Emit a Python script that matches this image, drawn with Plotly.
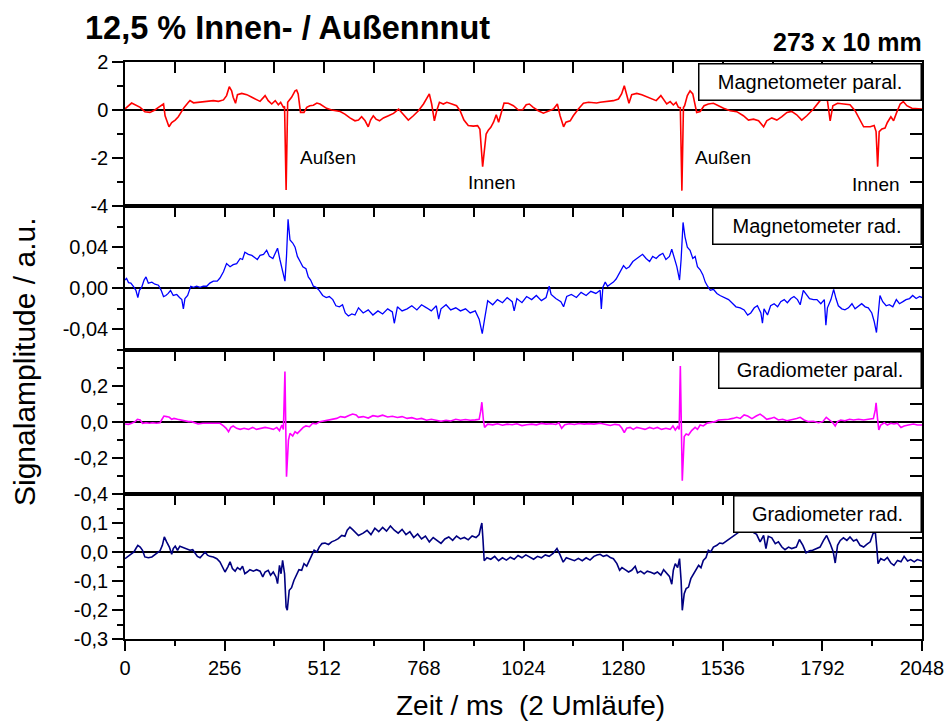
import plotly.graph_objects as go

# ---------------- data ----------------
t_mag_par = [0, 17, 39, 51, 64, 77, 86, 94, 99, 103, 109, 113, 120, 129, 137, 143, 152, 163, 167, 176,
             193, 210, 227, 240, 253, 261, 268, 274, 278, 284, 289, 300, 313, 326, 338, 347, 360, 368, 377, 386,
             394, 400, 407, 410, 414, 418, 428, 437, 441, 445, 451, 460, 467, 475, 484, 493, 501, 510, 518, 531,
             553, 565, 578, 591, 600, 608, 617, 625, 631, 638, 645, 654, 664, 677, 690, 703, 715, 728, 741, 754,
             767, 777, 782, 788, 795, 801, 808, 818, 827, 840, 852, 861, 871, 882, 895, 906, 912, 919, 928, 934,
             940, 947, 954, 960, 968, 974, 985, 998, 1011, 1022, 1031, 1039, 1049, 1062, 1075, 1088, 1101, 1111, 1118, 1127,
             1133, 1144, 1152, 1165, 1178, 1191, 1212,
             1221, 1238, 1255, 1268, 1276, 1283, 1289, 1295, 1302, 1315, 1328, 1341, 1354, 1365, 1377, 1385, 1392, 1401, 1409, 1416,
             1422, 1427, 1431, 1435, 1438, 1445, 1452, 1459, 1465, 1469, 1478, 1488, 1499, 1512, 1525, 1538, 1555, 1572, 1589, 1602,
             1615, 1628, 1641, 1649, 1662, 1675, 1688, 1701, 1713, 1726, 1739, 1752, 1769, 1786, 1799, 1805, 1812, 1819, 1831, 1846,
             1863, 1876, 1885, 1898, 1915, 1925, 1930, 1934, 1938, 1945, 1953, 1959, 1968, 1975, 1983, 1992, 2000, 2009, 2022, 2035,
             2048]
v_mag_par = [0.05, 0.29, 0.11, -0.07, -0.1, 0.0, 0.11, 0.22, 0.25, -0.24, -0.58, -0.7, -0.52, -0.42, -0.28, -0.1, 0.11, 0.32, 0.39, 0.3,
             0.32, 0.35, 0.39, 0.36, 0.42, 0.6, 0.97, 0.8, 0.53, 0.28, 0.64, 0.69, 0.64, 0.53, 0.43, 0.36, 0.6, 0.39, 0.25, 0.39,
             0.22, 0.32, 0.11, 0.15, -3.33, 0.32, 0.53, 0.8, 0.83, 0.67, -0.1, -0.1, 0.11, 0.18, 0.2, 0.29, 0.25, 0.15, 0.07, 0.0,
             -0.06, -0.17, -0.33, -0.45, -0.42, -0.28, -0.45, -0.7, -0.42, -0.24, -0.38, -0.45, -0.33, -0.24, -0.14, 0.04, -0.2, -0.42, -0.24, -0.03,
             0.25, 0.5, 0.67, 0.25, -0.45, -0.03, 0.32, 0.25, 0.32, 0.25, 0.18, -0.03, -0.42, -0.65, -0.67, -0.65, -0.8, -2.36, -1.0, -0.83,
             -0.72, -0.51, -0.2, -0.51, -0.03, 0.29, 0.28, 0.18, 0.0, 0.01, 0.22, 0.25, 0.11, -0.03, -0.13, -0.03, 0.04, 0.25, -0.24, -0.7,
             -0.51, -0.45, -0.24, 0.04, 0.28, 0.32, 0.29,
             0.32, 0.36, 0.39, 0.46, 0.67, 1.01, 0.67, 0.28, 0.64, 0.69, 0.64, 0.55, 0.46, 0.39, 0.6, 0.39, 0.25, 0.35, 0.21, 0.32,
             0.11, 0.1, -3.36, 0.1, 0.18, 0.6, 0.8, 0.67, 0.11, -0.1, -0.06, 0.18, 0.25, 0.28, 0.18, 0.07, -0.03, -0.07, -0.24, -0.42,
             -0.38, -0.45, -0.7, -0.45, -0.33, -0.42, -0.28, -0.1, -0.06, -0.2, -0.42, -0.24, 0.04, 0.39, 0.6, 0.39, -0.45, 0.18, 0.28, 0.25,
             0.22, -0.03, -0.31, -0.7, -0.7, -0.65, -0.9, -2.36, -0.9, -0.79, -0.75, -0.52, -0.28, -0.45, -0.1, 0.25, 0.35, 0.18, 0.07, 0.04,
             0.04]

t_mag_rad = [0, 4, 9, 15, 21, 28, 33, 37, 43, 49, 54, 60, 69, 77, 86, 93, 99, 105, 111, 117, 124,
             133, 140, 146, 150, 154, 161, 169, 176, 184, 193, 201, 210, 218, 227, 237, 244, 253, 261, 270, 278, 287,
             296, 302, 308, 317, 326, 332, 340, 347, 356, 364, 371, 380, 386, 392, 398, 405, 411, 415, 419, 424,
             431, 437, 443, 450, 457, 465, 471, 477, 484, 491, 499, 508, 517, 525, 534, 542, 551, 559, 566, 574,
             583, 591,
             600, 612, 625, 637, 650, 662, 675, 687, 692, 700, 712, 725, 737, 750, 762, 775, 787, 800, 806, 812, 825, 837,
             850, 862, 875, 887, 900, 910, 918, 924, 932, 945, 957, 970, 982, 995, 1000, 1007, 1020, 1032, 1045, 1057, 1070,
             1082, 1090, 1095, 1107, 1120, 1127, 1135, 1147, 1160, 1172, 1185, 1197, 1210,
             1221, 1224, 1228, 1234, 1240, 1247, 1255, 1262, 1268, 1274, 1281, 1288, 1296, 1305, 1313, 1322, 1330, 1339, 1348, 1356, 1365,
             1373, 1382, 1390, 1399, 1405, 1411, 1418, 1425, 1429, 1434, 1439, 1445, 1452, 1459, 1465, 1471, 1478, 1485, 1491, 1497,
             1504, 1512, 1521, 1529, 1540, 1551, 1562, 1570, 1581, 1591, 1600, 1608, 1617, 1625, 1634, 1638, 1642, 1651, 1659, 1668, 1677,
             1685, 1694, 1702, 1711, 1719, 1728, 1735, 1743, 1750, 1759, 1769, 1778, 1788, 1797, 1801, 1805, 1814, 1821, 1827, 1833, 1842,
             1850, 1859, 1868, 1876, 1885, 1893, 1902, 1910, 1919, 1925, 1931, 1936, 1940, 1947, 1956, 1964, 1973, 1982, 1990, 1999,
             2007, 2016, 2024, 2033, 2042, 2048]
v_mag_rad = [0.008, 0.0097, 0.0055, 0.005, 0.002, -0.002, -0.009, -0.002, 0.001, 0.008, 0.011, 0.005, 0.006, 0.004, 0.003, -0.002, -0.008, -0.007, -0.005, -0.002, -0.007,
             -0.006, -0.009, -0.011, -0.02, -0.01, -0.007, 0.002, 0.001, 0.002, 0.001, 0.002, 0.002, 0.005, 0.007, 0.007, 0.01, 0.016, 0.024, 0.021, 0.023, 0.024,
             0.029, 0.028, 0.035, 0.033, 0.032, 0.03, 0.028, 0.032, 0.033, 0.037, 0.031, 0.029, 0.035, 0.039, 0.028, 0.018, 0.007, 0.031, 0.067, 0.047,
             0.044, 0.04, 0.031, 0.026, 0.021, 0.019, 0.011, 0.008, 0.002, 0.001, -0.002, -0.007, -0.009, -0.008, -0.011, -0.017, -0.018, -0.016, -0.024, -0.027,
             -0.025, -0.026,
             -0.019, -0.024, -0.021, -0.026, -0.022, -0.025, -0.02, -0.023, -0.034, -0.018, -0.022, -0.02, -0.017, -0.021, -0.016, -0.019, -0.022, -0.017, -0.03, -0.02, -0.016, -0.021,
             -0.019, -0.022, -0.02, -0.024, -0.022, -0.03, -0.044, -0.03, -0.012, -0.016, -0.011, -0.014, -0.009, -0.013, -0.022, -0.01, -0.014, -0.008, -0.011, -0.007, -0.012,
             -0.009, 0.002, -0.006, -0.01, -0.013, -0.018, -0.008, -0.006, -0.009, -0.004, -0.007, -0.003, -0.005,
             -0.002, -0.02, 0.001, 0.006, 0.002, 0.004, 0.006, 0.009, 0.013, 0.016, 0.022, 0.019, 0.021, 0.026, 0.028, 0.031, 0.033, 0.029, 0.026, 0.031, 0.029,
             0.032, 0.034, 0.028, 0.031, 0.038, 0.03, 0.021, 0.008, 0.028, 0.064, 0.05, 0.04, 0.037, 0.029, 0.031, 0.021, 0.018, 0.013, 0.006, 0.002,
             -0.002, -0.001, -0.005, -0.007, -0.009, -0.011, -0.015, -0.018, -0.019, -0.021, -0.026, -0.024, -0.019, -0.017, -0.024, -0.034, -0.02, -0.026, -0.017, -0.015, -0.018,
             -0.013, -0.011, -0.014, -0.01, -0.008, -0.011, -0.016, -0.002, -0.006, -0.01, -0.011, -0.011, -0.015, -0.011, -0.036, -0.019, -0.011, -0.001, -0.01, -0.017, -0.02,
             -0.021, -0.019, -0.015, -0.02, -0.017, -0.015, -0.018, -0.019, -0.024, -0.032, -0.043, -0.018, -0.007, -0.013, -0.017, -0.016, -0.018, -0.011, -0.015, -0.013,
             -0.011, -0.01, -0.007, -0.01, -0.008, -0.009]

t_grad_par = [0, 9, 17, 26, 32, 39, 45, 54, 63, 71, 81, 90, 94, 100, 107, 114, 120, 126, 135, 143,
              154, 163, 171, 180, 188, 200, 210, 223, 234, 244, 253, 260, 266, 272, 278, 287, 296, 306, 317, 328,
              338, 349, 360, 371, 381, 390, 397, 403, 407, 411, 415, 420, 424, 431, 437, 443, 450, 458, 465, 474,
              482, 491, 501, 511, 523, 534, 544, 554, 565, 577, 585, 594,
              600, 612, 625, 637, 650, 662, 675, 687, 700, 712, 725, 737, 750, 762, 775, 787, 800, 812, 825, 837,
              850, 862, 875, 887, 900, 910, 914, 917, 921, 924, 932, 945, 957, 970, 982, 995, 1007, 1020, 1032, 1045,
              1057, 1070, 1082, 1095, 1107, 1115, 1122, 1130, 1142, 1155, 1167, 1180, 1192, 1205,
              1221, 1234, 1247, 1259, 1270, 1277, 1283, 1289, 1298, 1306, 1315, 1325, 1336, 1348, 1358, 1368, 1379, 1390, 1401, 1408,
              1414, 1420, 1424, 1427, 1432, 1437, 1442, 1448, 1456, 1465, 1471, 1478, 1486, 1495, 1504, 1516, 1525, 1538, 1551, 1562,
              1572, 1581, 1591, 1600, 1611, 1622, 1632, 1641, 1649, 1659, 1668, 1679, 1690, 1701, 1713, 1726, 1735, 1745, 1756, 1769,
              1782, 1793, 1802, 1810, 1819, 1825, 1831, 1839, 1850, 1862, 1872, 1885, 1898, 1910, 1923, 1928, 1930, 1934, 1937, 1942,
              1951, 1959, 1968, 1976, 1985, 1994, 2002, 2013, 2026, 2036, 2048]
v_grad_par = [-0.011, -0.013, -0.007, 0.002, 0.015, 0.011, -0.007, -0.004, -0.007, -0.004, -0.007, -0.004, 0.011, 0.033, 0.03, 0.026, 0.015, 0.02, 0.015, 0.011,
              0.007, 0.002, 0.002, -0.007, -0.011, -0.007, -0.007, -0.011, -0.007, -0.007, -0.022, -0.035, -0.054, -0.03, -0.022, -0.035, -0.041, -0.035, -0.041, -0.03,
              -0.041, -0.035, -0.03, -0.035, -0.041, -0.03, -0.048, -0.017, -0.041, 0.28, -0.304, -0.1, -0.063, -0.078, -0.054, -0.063, -0.048, -0.03, -0.022, -0.026,
              -0.007, -0.011, 0.002, 0.007, 0.011, 0.015, 0.02, 0.03, 0.026, 0.037, 0.044, 0.039,
              0.026, 0.03, 0.022, 0.035, 0.03, 0.038, 0.028, 0.032, 0.025, 0.03, 0.02, 0.024, 0.015, 0.02, 0.01, 0.015, 0.008, 0.004, 0.01, 0.006,
              0.015, 0.01, 0.014, 0.01, 0.012, 0.015, 0.06, 0.11, 0.01, -0.03, -0.012, -0.016, -0.01, -0.018, -0.012, -0.015, -0.01, -0.02, -0.015, -0.012,
              -0.016, -0.008, -0.012, -0.01, -0.014, -0.005, -0.035, -0.015, -0.01, -0.014, -0.008, -0.012, -0.009, -0.012,
              -0.007, -0.011, -0.019, -0.013, -0.017, -0.035, -0.059, -0.035, -0.03, -0.041, -0.03, -0.035, -0.041, -0.03, -0.037, -0.03, -0.041, -0.035, -0.041, -0.022,
              -0.044, -0.026, -0.041, 0.311, -0.326, -0.081, -0.067, -0.072, -0.048, -0.03, -0.041, -0.017, -0.022, -0.007, -0.004, 0.002, 0.011, 0.011, 0.015, 0.02,
              0.026, 0.02, 0.039, 0.033, 0.019, 0.033, 0.044, 0.03, 0.015, 0.02, 0.026, 0.011, 0.015, 0.007, 0.011, 0.019, 0.026, 0.011, 0.002, 0.004,
              -0.004, 0.002, 0.026, 0.011, -0.004, -0.022, 0.002, 0.011, 0.007, 0.015, 0.011, 0.015, 0.011, 0.015, 0.019, 0.067, 0.107, 0.015, -0.044, -0.017,
              -0.004, -0.017, -0.007, -0.011, -0.007, -0.03, -0.022, -0.017, -0.011, -0.017, -0.017]

t_grad_rad = [0, 9, 17, 23, 28, 33, 39, 45, 51, 60, 69, 75, 83, 90, 96, 101, 107, 114, 120, 124,
              129, 135, 141, 150, 158, 167, 174, 180, 186, 193, 200, 206, 212, 218, 227, 236, 244, 251, 257, 264,
              270, 276, 283, 289, 296, 302, 308, 314, 321, 330, 338, 347, 354, 360, 368, 374, 381, 388, 392, 397,
              401, 405, 410, 414, 417, 422, 428, 434, 441, 447, 454, 460, 467, 474, 480, 486, 493, 499, 506, 514,
              523, 531, 540, 548, 557, 565, 571, 578, 585, 591, 600,
              612, 622, 632, 642, 652, 662, 672, 682, 692, 702, 712, 722, 732, 742, 752, 762, 772, 782, 792, 802,
              812, 822, 832, 842, 852, 862, 872, 882, 892, 902, 910, 914, 917, 920, 923, 930, 940, 950, 960, 970,
              980, 990, 1000, 1010, 1020, 1030, 1040, 1050, 1060, 1070, 1080, 1090, 1100, 1110, 1118, 1126, 1134, 1145, 1155, 1165,
              1175, 1185, 1195, 1205, 1213,
              1221, 1229, 1238, 1247, 1255, 1264, 1271, 1277, 1285, 1294, 1302, 1311, 1317, 1325, 1334, 1342, 1351, 1360, 1368, 1377,
              1384, 1392, 1399, 1405, 1409, 1414, 1420, 1425, 1429, 1432, 1437, 1442, 1448, 1454, 1461, 1468, 1474, 1480, 1486, 1493,
              1499, 1505, 1512, 1521, 1528, 1536, 1545, 1555, 1564, 1572, 1581, 1598, 1615, 1623, 1632, 1641, 1647, 1653, 1662, 1671,
              1679, 1688, 1696, 1705, 1713, 1725, 1733, 1742, 1750, 1759, 1767, 1778, 1786, 1795, 1803, 1812, 1820, 1825, 1831, 1838,
              1846, 1855, 1863, 1872, 1880, 1889, 1898, 1906, 1915, 1922, 1928, 1932, 1935, 1942, 1951, 1959, 1968, 1976, 1985, 1994,
              2002, 2011, 2019, 2028, 2036, 2048]
v_grad_rad = [-0.023, -0.015, -0.008, 0.0, 0.012, 0.023, 0.017, 0.006, -0.017, -0.02, -0.017, -0.011, 0.0, 0.004, 0.023, 0.052, 0.035, 0.017, -0.008, 0.012,
              0.02, 0.006, 0.02, 0.015, 0.012, 0.006, 0.008, -0.003, -0.015, -0.02, -0.008, 0.0, -0.011, -0.015, -0.017, -0.023, -0.034, -0.054, -0.069, -0.052,
              -0.034, -0.057, -0.066, -0.054, -0.061, -0.049, -0.075, -0.069, -0.061, -0.066, -0.061, -0.066, -0.086, -0.069, -0.063, -0.08, -0.069, -0.086, -0.109, -0.046,
              -0.075, -0.029, -0.075, -0.19, -0.201, -0.132, -0.123, -0.098, -0.08, -0.061, -0.063, -0.04, -0.049, -0.029, -0.011, 0.006, 0.0, 0.017, 0.029, 0.031,
              0.026, 0.035, 0.04, 0.046, 0.057, 0.054, 0.075, 0.086, 0.077, 0.069, 0.057,
              0.065, 0.075, 0.06, 0.082, 0.07, 0.085, 0.072, 0.09, 0.075, 0.065, 0.078, 0.06, 0.07, 0.05, 0.062, 0.045, 0.055, 0.035, 0.05, 0.04,
              0.03, 0.045, 0.052, 0.04, 0.055, 0.045, 0.05, 0.042, 0.055, 0.05, 0.06, 0.085, 0.1, 0.04, -0.03, -0.02, -0.025, -0.015, -0.03, -0.02,
              -0.028, -0.018, -0.025, -0.012, -0.02, -0.01, -0.018, -0.025, -0.015, -0.02, -0.01, -0.015, -0.005, 0.012, -0.01, -0.035, -0.02, -0.025, -0.03, -0.022,
              -0.03, -0.02, -0.028, -0.015, -0.01,
              -0.008, -0.015, -0.011, -0.019, -0.023, -0.04, -0.063, -0.054, -0.061, -0.069, -0.063, -0.049, -0.072, -0.066, -0.075, -0.066, -0.07, -0.075, -0.069, -0.08,
              -0.061, -0.072, -0.084, -0.111, -0.063, -0.04, -0.054, -0.023, -0.098, -0.201, -0.144, -0.126, -0.121, -0.092, -0.075, -0.061, -0.046, -0.054, -0.029, -0.019,
              0.006, 0.0, 0.017, 0.023, 0.031, 0.029, 0.038, 0.046, 0.057, 0.063, 0.072, 0.08, 0.069, 0.061, 0.035, 0.057, 0.012, 0.054, 0.049, 0.029,
              0.035, 0.017, 0.008, 0.017, 0.012, 0.017, 0.043, 0.023, -0.003, 0.004, 0.006, 0.012, 0.017, 0.04, 0.057, 0.029, 0.0, -0.038, 0.023, 0.04,
              0.049, 0.04, 0.052, 0.038, 0.043, 0.023, 0.017, 0.026, 0.035, 0.063, 0.069, 0.012, -0.04, -0.023, -0.029, -0.019, -0.038, -0.046, -0.029, -0.034,
              -0.015, -0.031, -0.026, -0.034, -0.026, -0.031]

panel_names = ["Magnetometer paral.", "Magnetometer rad.", "Gradiometer paral.", "Gradiometer rad."]
x_tick_vals = [0, 256, 512, 768, 1024, 1280, 1536, 1792, 2048]
x_tick_text = ["0", "256", "512", "768", "1024", "1280", "1536", "1792", "2048"]

y1_tick_vals = [-4, -2, 0, 2]
y1_tick_text = ["-4", "-2", "0", "2"]
y2_tick_vals = [-0.04, 0.0, 0.04]
y2_tick_text = ["-0,04", "0,00", "0,04"]
y3_tick_vals = [-0.4, -0.2, 0.0, 0.2]
y3_tick_text = ["-0,4", "-0,2", "0,0", "0,2"]
y4_tick_vals = [-0.3, -0.2, -0.1, 0.0, 0.1]
y4_tick_text = ["-0,3", "-0,2", "-0,1", "0,0", "0,1"]

marker_labels = ["Außen", "Innen", "Außen", "Innen"]
marker_t = [522, 943, 1537, 1930]
marker_v = [-1.96, -3.04, -1.96, -3.1]

series = [(t_mag_par, v_mag_par), (t_mag_rad, v_mag_rad), (t_grad_par, v_grad_par), (t_grad_rad, v_grad_rad)]
for t, v in series:
    assert len(t) == len(v), (len(t), len(v))

# ---------------- figure ----------------
FONT = "Liberation Sans, Arial, sans-serif"
colors = ["#ff0000", "#0000ff", "#ff00ff", "#000080"]
widths = [1.6, 1.3, 1.6, 1.6]
ranges = [[-4, 2], [-0.06, 0.08], [-0.4, 0.4], [-0.3, 0.2]]
domains = [[433 / 577, 1.0], [289 / 577, 433 / 577], [145 / 577, 289 / 577], [0.0, 145 / 577]]
major_vals = [y1_tick_vals, y2_tick_vals, y3_tick_vals, y4_tick_vals]
major_text = [y1_tick_text, y2_tick_text, y3_tick_text, y4_tick_text]
minor_vals = [[-3, -1, 1], [-0.06, -0.02, 0.02, 0.06], [-0.3, -0.1, 0.1, 0.3],
              [-0.25, -0.15, -0.05, 0.05, 0.15]]
right_vals = [[-4, -3, -2, -1, 0, 1, 2],
              [-0.06, -0.04, -0.02, 0.0, 0.02, 0.04, 0.06, 0.08],
              [-0.4, -0.3, -0.2, -0.1, 0.0, 0.1, 0.2, 0.3, 0.4],
              [-0.3, -0.25, -0.2, -0.15, -0.1, -0.05, 0.0, 0.05, 0.1, 0.15, 0.2]]

fig = go.Figure()
for i, (t, v) in enumerate(series):
    sfx = "" if i == 0 else str(i + 1)
    fig.add_trace(go.Scatter(x=t, y=v, mode="lines", xaxis="x" + sfx, yaxis="y" + sfx,
                             line=dict(color=colors[i], width=widths[i]), showlegend=False,
                             hoverinfo="skip"))

# empty traces so that the overlay (tick-only) axes get drawn
for i in range(4):
    sfx = "" if i == 0 else str(i + 1)
    fig.add_trace(go.Scatter(x=[None], y=[None], mode="lines", xaxis="x" + sfx, yaxis="y" + str(i + 5),
                             showlegend=False, hoverinfo="skip"))
fig.add_trace(go.Scatter(x=[None], y=[None], mode="lines", xaxis="x5", yaxis="y4",
                         showlegend=False, hoverinfo="skip"))

layout = dict(
    width=946, height=722,
    margin=dict(l=125, r=24, t=62, b=83, autoexpand=False),
    paper_bgcolor="white", plot_bgcolor="white",
    font=dict(family=FONT, color="black", size=20),
    showlegend=False,
)

for i in range(4):
    sfx = "" if i == 0 else str(i + 1)
    layout["xaxis" + sfx] = dict(
        domain=[0, 1], anchor="y" + sfx, range=[0, 2048], side="top", automargin=False,
        showline=True, mirror=True, linecolor="black", linewidth=1.5,
        ticks="inside", ticklen=11, tickwidth=1.5, tickcolor="black",
        tick0=0, dtick=128, showticklabels=False, showgrid=False, zeroline=False,
    )
    layout["yaxis" + sfx] = dict(
        domain=domains[i], anchor="x" + sfx, range=ranges[i], automargin=False,
        showline=True, mirror=True, linecolor="black", linewidth=1.5,
        ticks="outside", ticklen=11, tickwidth=1.5, tickcolor="black",
        tickvals=major_vals[i], ticktext=major_text[i],
        tickfont=dict(family=FONT, size=20, color="black"),
        minor=dict(tickvals=minor_vals[i], ticks="outside", ticklen=6, tickwidth=1.5, tickcolor="black", showgrid=False),
        showgrid=False, zeroline=True, zerolinecolor="black", zerolinewidth=1.5,
    )
    # right-side inner ticks
    layout["yaxis" + str(i + 5)] = dict(
        overlaying="y" + sfx, anchor="x" + sfx, side="right", range=ranges[i], automargin=False,
        ticks="inside", ticklen=12, tickwidth=1.5, tickcolor="black",
        tickvals=right_vals[i], showticklabels=False, showgrid=False, zeroline=False, showline=False,
    )

# bottom labelled time axis
layout["xaxis5"] = dict(
    overlaying="x4", anchor="y4", side="bottom", range=[0, 2048], automargin=False,
    showline=True, linecolor="black", linewidth=1.5,
    ticks="outside", ticklen=10, tickwidth=1.5, tickcolor="black",
    tickvals=x_tick_vals, ticktext=x_tick_text,
    tickfont=dict(family=FONT, size=20, color="black"),
    minor=dict(dtick=128, tick0=0, ticks="outside", ticklen=5, tickwidth=1.5, tickcolor="black", showgrid=False),
    showgrid=False, zeroline=False,
)

fig.update_layout(**layout)

annotations = []
# title + size label
annotations.append(dict(text="<b>12,5 % Innen- / Außennnut</b>", xref="paper", yref="paper",
                        x=(83 - 125) / 797, y=(639 - 28) / 577, xanchor="left", yanchor="middle",
                        showarrow=False, font=dict(family=FONT, size=32.5, color="black")))
annotations.append(dict(text="<b>273 x 10 mm</b>", xref="paper", yref="paper",
                        x=(924 - 125) / 797, y=(639 - 42) / 577, xanchor="right", yanchor="middle",
                        showarrow=False, font=dict(family=FONT, size=25, color="black")))
# axis titles
annotations.append(dict(text="Signalamplitude / a.u.", xref="paper", yref="paper",
                        x=(24 - 125) / 797, y=(639 - 362) / 577, xanchor="center", yanchor="middle",
                        textangle=-90, showarrow=False, font=dict(family=FONT, size=30, color="black")))
annotations.append(dict(text="Zeit / ms  (2 Umläufe)", xref="paper", yref="paper",
                        x=(530 - 125) / 797, y=(639 - 705) / 577, xanchor="center", yanchor="middle",
                        showarrow=False, font=dict(family=FONT, size=28, color="black")))
# panel label boxes
box_w = [224, 210, 204, 189]
for i, name in enumerate(panel_names):
    top = domains[i][1]
    annotations.append(dict(text=name, xref="paper", yref="paper", x=1.0, y=top,
                            xanchor="right", yanchor="top", yshift=-1, showarrow=False,
                            width=box_w[i] - 5, height=33, align="center", valign="middle",
                            bgcolor="white", bordercolor="black", borderwidth=1.5, borderpad=1,
                            font=dict(family=FONT, size=20, color="black")))
# Außen / Innen markers in panel 1
for lab, tx, vy in zip(marker_labels, marker_t, marker_v):
    annotations.append(dict(text=lab, xref="x", yref="y", x=tx, y=vy, showarrow=False,
                            xanchor="center", yanchor="middle",
                            font=dict(family=FONT, size=19, color="black")))

fig.update_layout(annotations=annotations)
fig.write_html("out.html")
